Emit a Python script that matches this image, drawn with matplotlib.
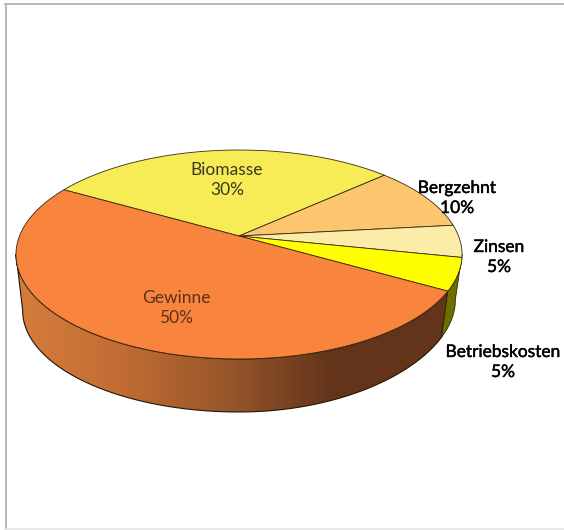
import numpy as np
import matplotlib
matplotlib.use("Agg")
import matplotlib.pyplot as plt
import matplotlib.patheffects as pe
from matplotlib.colors import LinearSegmentedColormap
from matplotlib.lines import Line2D
from matplotlib.patches import Polygon

# Shares of the pie, clockwise from the upper left
categories = ["Biomasse", "Bergzehnt", "Zinsen", "Betriebskosten", "Gewinne"]
shares = [30, 10, 5, 5, 50]
face_colors = ["#F7EC55", "#FBC66E", "#FBEDA8", "#FFFF00", "#F9843D"]
text_colors = ["#3a3a20", "black", "black", "black", "#5a3218"]
label_xy = [(227, 170), (457, 188), (499, 247), (503, 352), (176, 298)]
label_stroke = [0, 0.3, 0.3, 0.3, 0]

START_ANGLE = 150.2
CX, TOP_CY = 239, 236
FX, FY, TILT = 219.5, 101.2, 0.177
BOTTOM_CY, BOTTOM_SCALE = 292.7, 0.97
RIGHT_LIFT = 9


def rim(deg, bottom=False):
    # tilted-disc projection of the unit circle to pixels
    a = np.radians(deg)
    X, Y = np.cos(a), np.sin(a)
    d = 1 + TILT * Y
    if bottom:
        # the lower rim rises a little towards the right
        lift = RIGHT_LIFT * (np.clip(X / d, 0, None) / 0.95) ** 2
        return CX + BOTTOM_SCALE * FX * X / d, BOTTOM_CY - BOTTOM_SCALE * FY * Y / d - lift
    return CX + FX * X / d, TOP_CY - FY * Y / d


def side_polygon(a0, a1):
    t = np.linspace(a0, a1, 120)
    x0, y0 = rim(t)
    x1, y1 = rim(t[::-1], bottom=True)
    return np.column_stack([np.r_[x0, x1], np.r_[y0, y1]])


fig = plt.figure(figsize=(5.64, 5.30), dpi=100)
ax = fig.add_axes([0, 0, 1, 1])
ax.axis("off")

# outer frame
fig.add_artist(Line2D([5.5 / 564, 5.5 / 564], [0, 1 - 3.5 / 530], color="#b8b8bc", lw=1.4))
fig.add_artist(Line2D([5 / 564, 1], [1 - 3.5 / 530, 1 - 3.5 / 530], color="#b8b8bc", lw=1.4))
fig.add_artist(Line2D([5 / 564, 1], [1 / 530, 1 / 530], color="#e4e4e4", lw=1.2))

# slice boundaries, clockwise
edges = START_ANGLE - np.cumsum([0] + shares) * 3.6

# wall of the big slice, shaded left to right
wall_cmap = LinearSegmentedColormap.from_list(
    "wall", [(0, "#D67D3B"), (0.25, "#C06C33"), (0.5, "#95552A"), (0.72, "#65351B"), (1, "#63331A")])
wall_patch = Polygon(side_polygon(edges[4], -170), closed=True, fc="none", ec="#20140a", lw=0.8, zorder=2)
ax.add_patch(wall_patch)
img = ax.imshow(np.linspace(0, 1, 256).reshape(1, -1), cmap=wall_cmap, extent=(16, 450, 420, 250),
                aspect="auto", zorder=1)
img.set_clip_path(wall_patch)

# wall of the small slice at the right
ax.add_patch(Polygon(side_polygon(-10, edges[4]), closed=True, fc="#6E6E00", ec="#2a2a00", lw=0.6, zorder=2))

# top faces
for i, c in enumerate(face_colors):
    t = np.linspace(edges[i], edges[i + 1], 200)
    x, y = rim(t)
    pts = np.column_stack([np.r_[CX, x], np.r_[TOP_CY, y]])
    ax.add_patch(Polygon(pts, closed=True, fc=c, ec="#3a2a12", lw=0.6, zorder=3))

for name, v, xy, col, sw in zip(categories, shares, label_xy, text_colors, label_stroke):
    for text, dy in ((name, 0), (f"{v}%", 20)):
        t = ax.text(xy[0], xy[1] + dy, text, color=col, ha="center", va="center",
                    fontsize=12.5, family="Lato", zorder=5)
        if sw:
            t.set_path_effects([pe.withStroke(linewidth=sw, foreground=col)])

ax.set_xlim(0, 564)
ax.set_ylim(530, 0)
fig.savefig("out.png", dpi=100)
